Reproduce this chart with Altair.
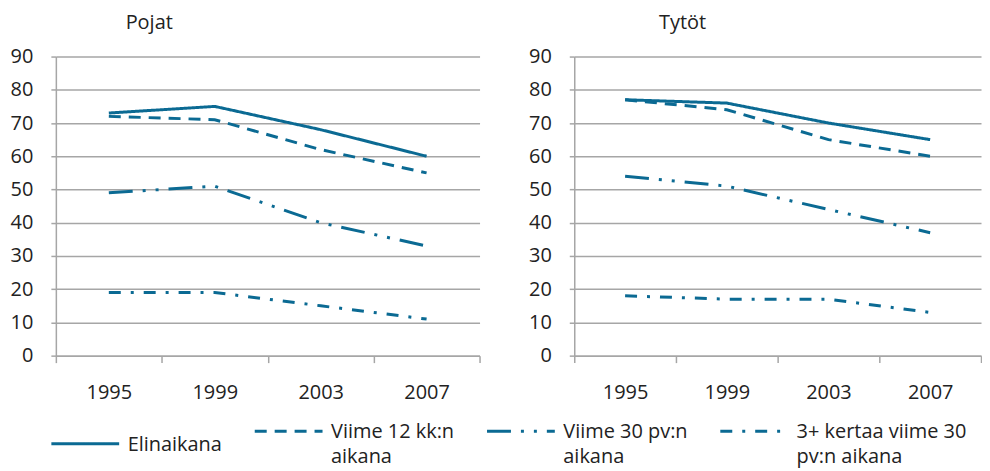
import altair as alt
import pandas as pd

years = ["1995", "1999", "2003", "2007"]
series = ["Elinaikana", "Viime 12 kk:n aikana", "Viime 30 pv:n aikana", "3+ kertaa viime 30 pv:n aikana"]
legend_lines = [["Elinaikana"], ["Viime 12 kk:n", "aikana"], ["Viime 30 pv:n", "aikana"], ["3+ kertaa viime 30", "pv:n aikana"]]
dashes = [[1, 0], [12, 8], [24, 10, 3, 10, 3, 10], [12, 10, 3, 10]]

pojat_elinaikana = [73, 75, 68, 60]
pojat_12kk = [72, 71, 62, 55]
pojat_30pv = [49, 51, 40, 33]
pojat_3plus = [19, 19, 15, 11]

tytot_elinaikana = [77, 76, 70, 65]
tytot_12kk = [77, 74, 65, 60]
tytot_30pv = [54, 51, 44, 37]
tytot_3plus = [18, 17, 17, 13]

COLOR = "#0b6a93"
GRID = "#a6a6a6"
TEXT = "#222222"
FONT = "Open Sans"


def long_df(values_by_series):
    rows = []
    for s, vals in zip(series, values_by_series):
        for y, v in zip(years, vals):
            rows.append({"year": y, "series": s, "value": v})
    return pd.DataFrame(rows)


pojat = long_df([pojat_elinaikana, pojat_12kk, pojat_30pv, pojat_3plus])
tytot = long_df([tytot_elinaikana, tytot_12kk, tytot_30pv, tytot_3plus])

label_expr = ""
for s, lines in zip(series, legend_lines):
    arr = "[" + ",".join("'" + l + "'" for l in lines) + "]"
    label_expr += f"datum.label == '{s}' ? {arr} : "
label_expr += "datum.label"

legend = alt.Legend(
    title=None,
    orient="none",
    legendX=-6,
    legendY=347,
    direction="horizontal",
    columns=4,
    symbolType="M-1,-0.2H1",
    symbolSize=4624,
    symbolStrokeWidth=3,
    symbolStrokeColor=COLOR,
    symbolFillColor="transparent",
    labelFont=FONT,
    labelFontSize=20,
    labelColor=TEXT,
    labelBaseline="alphabetic",
    labelOffset=7,
    labelLimit=400,
    columnPadding=26,
    labelExpr=label_expr,
)


def panel(df, title, dx, width):
    return alt.Chart(df).mark_line(strokeWidth=3, color=COLOR).encode(
        x=alt.X(
            "year:O",
            sort=years,
            bandPosition=0.5,
            scale=alt.Scale(type="band", paddingInner=0, paddingOuter=0),
            axis=alt.Axis(
                title=None, tickBand="extent", labelAngle=0, grid=False,
                tickSize=7, labelPadding=20, domainColor=GRID, tickColor=GRID,
                domainWidth=1.5, tickWidth=1.5,
            ),
        ),
        y=alt.Y(
            "value:Q",
            scale=alt.Scale(domain=[0, 90]),
            axis=alt.Axis(
                title=None, values=list(range(0, 91, 10)), tickSize=5, labelPadding=18,
                domainColor=GRID, tickColor=GRID, gridColor=GRID, gridWidth=1.5,
                domainWidth=1.5, tickWidth=1.5,
            ),
        ),
        strokeDash=alt.StrokeDash(
            "series:N", sort=series,
            scale=alt.Scale(domain=series, range=dashes),
            legend=legend,
        ),
    ).properties(
        width=width, height=300,
        title=alt.TitleParams(title, anchor="start", frame="group", dx=dx, offset=14,
                              font=FONT, fontSize=20, fontWeight="normal", color=TEXT),
    )


chart = alt.hconcat(
    panel(pojat, "Pojat", 70, 425),
    panel(tytot, "Tytöt", 85, 408),
    spacing=48,
).properties(
    padding={"left": 2, "top": 4, "right": 0, "bottom": 0},
).configure(
    style={"guide-label": {"lineHeight": 25}},
).configure_view(stroke=None).configure_axis(
    labelFont=FONT, labelFontSize=20, labelColor=TEXT,
)

chart.save("out.html", embed_options={"renderer": "svg", "actions": False})
